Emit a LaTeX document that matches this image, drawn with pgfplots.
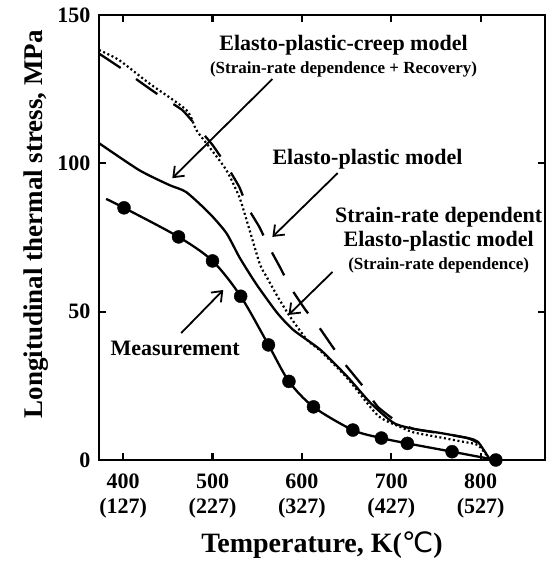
\documentclass[border=0pt]{standalone}
\usepackage{fontspec}
\setmainfont{Liberation Serif}
\newfontfamily\dejavu{DejaVu Sans}
\usepackage{pgfplots}
\pgfplotsset{compat=1.18}
\usetikzlibrary{arrows.meta}
\begin{document}
\begin{tikzpicture}
\begin{axis}[name=ax, scale only axis, width=446pt, height=445pt,
  xmin=373, xmax=872, ymin=0, ymax=150,
  xtick={400,500,600,700,800},
  xticklabels={{400\\(127)},{500\\(227)},{600\\(327)},{700\\(427)},{800\\(527)}},
  ytick={0,50,100,150},
  axis line style={line width=2.2pt},
  every tick/.style={line width=2.2pt, black},
  major tick length=7pt,
  tick align=inside,
  clip=false,
  /pgf/number format/assume math mode=true,
  xticklabel style={align=center, font=\fontsize{22}{25}\selectfont\bfseries, yshift=-10pt},
  yticklabel style={font=\fontsize{22}{25}\selectfont\bfseries, xshift=-5pt},
  xlabel={Temperature, K({\dejavu\mdseries ℃})},
  ylabel={Longitudinal thermal stress, MPa},
  xlabel style={font=\fontsize{28}{30}\selectfont\bfseries, at={(axis description cs:0.5,-0.207)}, anchor=base},
  ylabel style={font=\fontsize{27}{30}\selectfont\bfseries, at={(axis description cs:-0.14,0.53)}, anchor=center},
]
% Measurement
\addplot[black, line width=2.3pt, smooth, tension=0.5] coordinates {
(381,88) (401,85) (462,75.2) (500,67.1) (531.5,55.2) (562.6,38.8) (585.5,26.5) (613,17.9) (657,10.1) (689,7.4) (718,5.6) (768,2.8) (817,0)};
\addplot[only marks, mark=*, mark size=6.5pt, black] coordinates {
(401,85) (462,75.2) (500,67.1) (531.5,55.2) (562.6,38.8) (585.5,26.5) (613,17.9) (657,10.1) (689,7.4) (718,5.6) (768,2.8) (817,0)};
% Elasto-plastic (solid)
\addplot[black, line width=2.3pt, smooth, tension=0.4] coordinates {
(373,106.8) (418,97.7) (451.6,92.7) (470.6,90.3) (496.4,83.2) (515.5,76.5) (530,68.4) (544.6,61.3) (553.6,57.3) (572.6,49.5) (590.6,43.8) (620.9,37.1) (651.1,28) (676.9,19.2) (702.7,12.5) (725,10.5) (755,9.1) (785.7,7.4) (797,6.1) (810,0.3)};
% Elasto-plastic-creep (dotted)
\addplot[black, line width=2.2pt, dash pattern=on 2pt off 2.6pt, smooth, tension=0.4] coordinates {
(373,138.2) (395.5,134.8) (429,127) (470.6,118) (482,111.2) (496.4,105.5) (515.5,97.7) (530,88.6) (540,79) (553,66) (561,61.5) (573,55) (587,48.2) (606,40.4) (620,37) (651,27.5) (685,15) (710.5,11.1) (725,9.3) (755,7.6) (781,6.1) (797,5.0) (810,0.3)};
% Strain-rate dependent elasto-plastic (dashed)
\addplot[black, line width=2.3pt, dash pattern=on 26pt off 19pt, smooth, tension=0.3] coordinates {
(373,137) (398,132) (421,127) (440,123) (466,118) (483,112.2) (500,106.2) (516.6,98.8) (530,92) (539,85.3) (552.5,78.5) (562,72.5) (576,64.7) (587,58.3) (604,50.6) (617.5,45.5) (635.4,37.7) (649,32) (669,24.6) (685,17.9) (707,12.8) (725,10.5) (755,9) (785,7.4) (797,5.6) (806,0.3)};
% annotations
\node[font=\fontsize{22}{24}\selectfont\bfseries] at (axis cs:646.6,139.9) {Elasto-plastic-creep model};
\node[font=\fontsize{17}{19}\selectfont\bfseries] at (axis cs:646.6,131.8) {(Strain-rate dependence + Recovery)};
\node[font=\fontsize{22}{24}\selectfont\bfseries] at (axis cs:673.5,101.4) {Elasto-plastic model};
\node[font=\fontsize{22}{24}\selectfont\bfseries] at (axis cs:753.1,81.9) {Strain-rate dependent};
\node[font=\fontsize{22}{24}\selectfont\bfseries] at (axis cs:753.1,73.8) {Elasto-plastic model};
\node[font=\fontsize{17}{19}\selectfont\bfseries] at (axis cs:753.1,65.7) {(Strain-rate dependence)};
\node[font=\fontsize{22}{24}\selectfont\bfseries] at (axis cs:458.3,37.7) {Measurement};
\draw[line width=1.8pt, -{Straight Barb[length=9pt,width=14pt]}] (axis cs:567,128.4) -- (axis cs:455,95);
\draw[line width=1.8pt, -{Straight Barb[length=9pt,width=14pt]}] (axis cs:640,96.7) -- (axis cs:567,75.2);
\draw[line width=1.8pt, -{Straight Barb[length=9pt,width=14pt]}] (axis cs:634.3,63.4) -- (axis cs:585,48.9);
\draw[line width=1.8pt, -{Straight Barb[length=9pt,width=14pt]}] (axis cs:465,42.8) -- (axis cs:512,57.3);
\end{axis}
\pgfresetboundingbox
\path ([shift={(-99pt,-103pt)}]ax.south west) rectangle ([shift={(14pt,15pt)}]ax.north east);
\end{tikzpicture}
\end{document}
